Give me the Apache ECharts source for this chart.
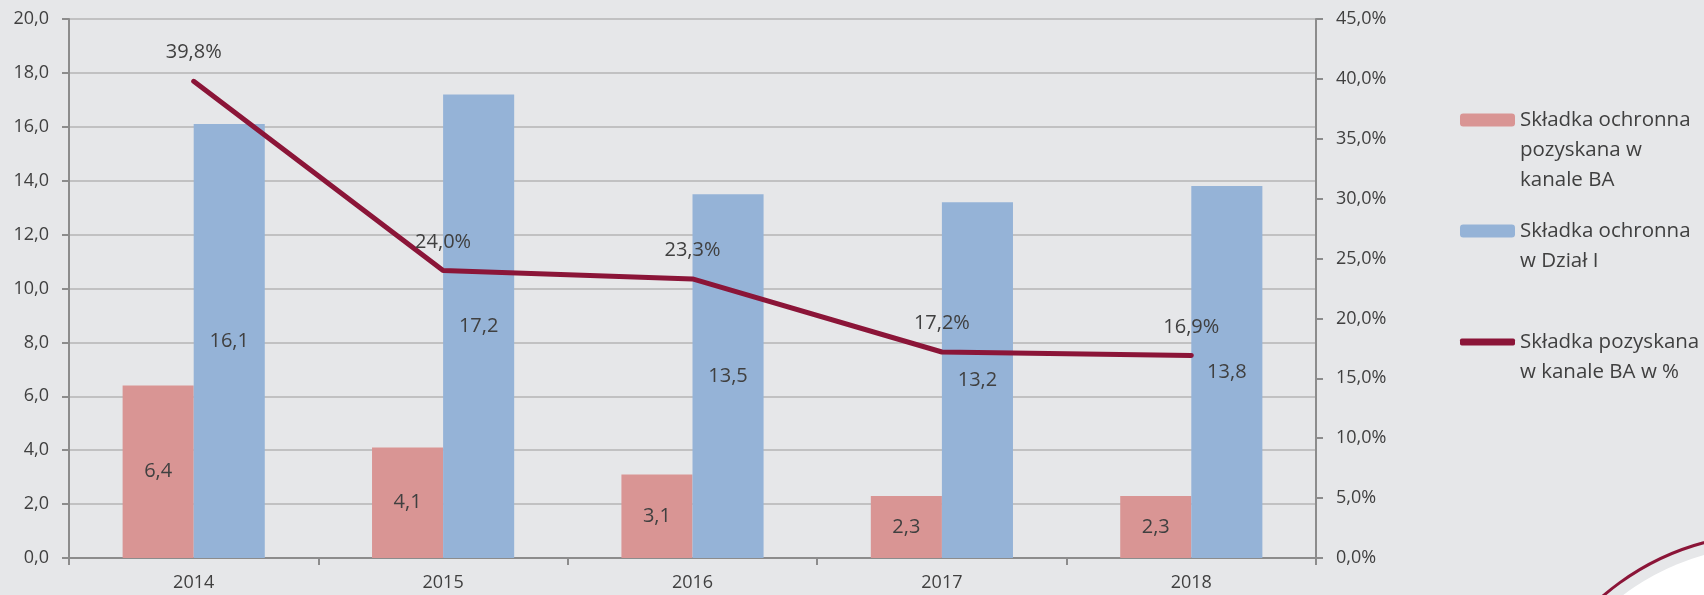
<!DOCTYPE html>
<html>
<head>
<meta charset="utf-8">
<script src="https://cdn.jsdelivr.net/npm/echarts@6/dist/echarts.min.js"></script>
<style>
  html, body { margin: 0; padding: 0; background: #e6e7e9; }
  #chart { width: 1704px; height: 595px; }
</style>
</head>
<body>
<div id="chart"></div>
<script>
// dane z wykresu
const years = ['2014', '2015', '2016', '2017', '2018']
const skladkaBA = [6.4, 4.1, 3.1, 2.3, 2.3]
const skladkaDzial1 = [16.1, 17.2, 13.5, 13.2, 13.8]
const udzialBA = [39.8, 24.0, 23.3, 17.2, 16.9]

const nameBA = 'Składka ochronna\npozyskana w\nkanale BA'
const nameDzial = 'Składka ochronna\nw Dział I'
const nameUdzial = 'Składka pozyskana\nw kanale BA w %'

const fmt = (v) => v.toFixed(1).replace('.', ',')
const textColor = '#404040'
const lineColor = '#8b1538'
const font = '"Open Sans", sans-serif'

const myChart = echarts.init(document.getElementById('chart'))

// legenda: ikona wyrownana do pierwszej linii tekstu (puste linie nad tekstem)
function legendItem(name, top, icon, itemHeight) {
  const lines = name.split('\n').length
  return {
    orient: 'vertical',
    left: 1460,
    top: top,
    padding: 0,
    itemWidth: 55,
    itemHeight: itemHeight,
    itemGap: 5,
    selectedMode: false,
    data: [icon ? { name: name, icon: icon, itemStyle: { color: lineColor } } : name],
    formatter: (n) => '\n'.repeat(lines - 1) + n,
    textStyle: {
      color: textColor,
      fontFamily: font,
      fontSize: 20.5,
      lineHeight: 30
    }
  }
}

myChart.setOption({
  backgroundColor: '#e6e7e9',
  textStyle: { fontFamily: font },
  legend: [
    legendItem(nameBA, 45, null, 13),
    legendItem(nameDzial, 186, null, 13),
    legendItem(nameUdzial, 297, 'roundRect', 7)
  ],
  grid: {
    left: 69,
    right: 388,
    top: 19,
    bottom: 37
  },
  xAxis: {
    type: 'category',
    data: years,
    axisLine: { lineStyle: { color: '#8c8c8c', width: 2 } },
    axisTick: { show: true, length: 7, lineStyle: { color: '#8c8c8c', width: 2 } },
    axisLabel: { color: textColor, fontSize: 18, margin: 16, fontFamily: font }
  },
  yAxis: [
    {
      type: 'value',
      min: 0,
      max: 20,
      interval: 2,
      axisLine: { show: true, lineStyle: { color: '#8c8c8c', width: 2 } },
      axisTick: { show: true, length: 7, lineStyle: { color: '#8c8c8c', width: 2 } },
      splitLine: { lineStyle: { color: '#b4b4b4', width: 1.5 } },
      axisLabel: {
        color: textColor,
        fontSize: 18,
        margin: 20,
        fontFamily: font,
        formatter: (v) => fmt(v)
      }
    },
    {
      type: 'value',
      min: 0,
      max: 45,
      interval: 5,
      position: 'right',
      axisLine: { show: true, lineStyle: { color: '#8c8c8c', width: 2 } },
      axisTick: { show: true, length: 7, lineStyle: { color: '#8c8c8c', width: 2 } },
      splitLine: { show: false },
      axisLabel: {
        color: textColor,
        fontSize: 18,
        margin: 20,
        fontFamily: font,
        formatter: (v) => fmt(v) + '%'
      }
    }
  ],
  series: [
    {
      name: nameBA,
      type: 'bar',
      data: skladkaBA,
      barWidth: '28.5%',
      barGap: '0%',
      itemStyle: { color: '#d99594' },
      label: {
        show: true,
        position: 'inside',
        color: textColor,
        fontSize: 20,
        fontFamily: font,
        formatter: (p) => fmt(p.value)
      }
    },
    {
      name: nameDzial,
      type: 'bar',
      data: skladkaDzial1,
      barWidth: '28.5%',
      barGap: '0%',
      itemStyle: { color: '#95b3d7' },
      label: {
        show: true,
        position: 'inside',
        color: textColor,
        fontSize: 20,
        fontFamily: font,
        formatter: (p) => fmt(p.value)
      }
    },
    {
      name: nameUdzial,
      type: 'line',
      yAxisIndex: 1,
      data: udzialBA,
      symbol: 'circle',
      symbolSize: 1,
      showSymbol: true,
      lineStyle: { color: lineColor, width: 5, cap: 'round' },
      itemStyle: { color: lineColor },
      label: {
        show: true,
        position: 'top',
        distance: 18,
        color: textColor,
        fontSize: 20,
        fontFamily: font,
        formatter: (p) => fmt(p.value) + '%'
      }
    }
  ],
  // dekoracja w prawym dolnym rogu
  graphic: [
    {
      type: 'circle',
      shape: { cx: 1770, cy: 790, r: 244 },
      style: { fill: '#ffffff' },
      silent: true
    },
    {
      type: 'arc',
      shape: { cx: 1770, cy: 790, r: 256, startAngle: Math.PI * 1.15, endAngle: Math.PI * 1.45 },
      style: { stroke: lineColor, lineWidth: 3, fill: null },
      silent: true
    }
  ]
})
</script>
</body>
</html>
